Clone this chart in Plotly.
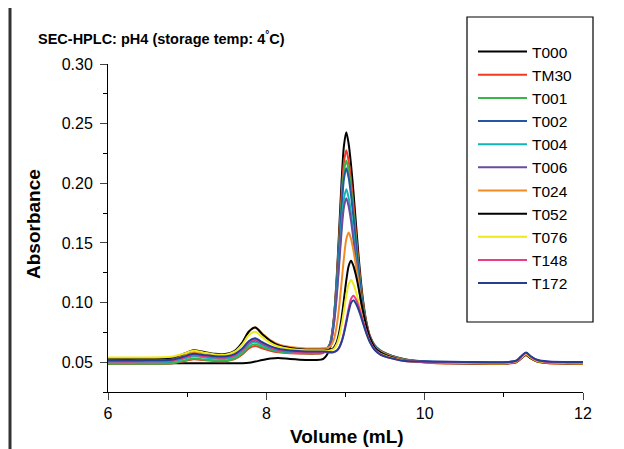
import plotly.graph_objects as go

volume = [6.0, 6.4, 6.8, 6.95, 7.08, 7.2, 7.35, 7.5, 7.6, 7.7, 7.78, 7.86, 7.95, 8.05, 8.15, 8.3, 8.5, 8.62, 8.72,
          8.80, 8.85, 8.89, 8.92, 8.95, 8.98, 9.01, 9.04, 9.07, 9.10, 9.13, 9.16, 9.19, 9.22, 9.26, 9.31, 9.37, 9.44,
          9.52, 9.62, 9.75, 9.90, 10.1,
          10.5, 11.06, 11.16, 11.22, 11.28, 11.34, 11.42, 11.56, 11.8, 12.0]

t000 = [.0490, .0490, .0490, .0491, .0492, .0491, .0490, .0490, .0490, .0491, .0495, .0505, .0518, .0530, .0535, .0527, .0519, .0518, .0528,
        .0609, .0843, .1223, .1608, .2008, .2313, .2428, .2329, .2154, .1931, .1679, .1432, .1209, .1027, .0851, .0716, .0637, .0594, .0567, .0545, .0525, .0510, .0498,
        .0492, .0492, .0503, .0534, .0562, .0534, .0507, .0495, .0492, .0491]
tm30 = [.0485, .0485, .0489, .0507, .0525, .0518, .0510, .0510, .0525, .0566, .0616, .0635, .0616, .0596, .0583, .0575, .0570, .0570, .0578,
        .0646, .0855, .1196, .1542, .1901, .2175, .2276, .2186, .2027, .1823, .1595, .1371, .1168, .1002, .0841, .0716, .0642, .0600, .0572, .0547, .0522, .0506, .0494,
        .0488, .0488, .0499, .0533, .0563, .0533, .0505, .0491, .0487, .0485]
t001 = [.0487, .0487, .0491, .0511, .0530, .0523, .0515, .0515, .0531, .0576, .0630, .0650, .0628, .0605, .0590, .0580, .0575, .0575, .0582,
        .0647, .0844, .1167, .1495, .1835, .2095, .2190, .2105, .1954, .1760, .1544, .1330, .1138, .0981, .0827, .0709, .0638, .0598, .0570, .0545, .0521, .0509, .0500,
        .0495, .0495, .0506, .0540, .0570, .0540, .0512, .0498, .0494, .0493]
t002 = [.0505, .0505, .0510, .0533, .0555, .0546, .0535, .0535, .0552, .0600, .0658, .0680, .0650, .0620, .0600, .0587, .0580, .0580, .0587,
        .0648, .0837, .1146, .1461, .1787, .2035, .2127, .2045, .1900, .1714, .1506, .1301, .1117, .0966, .0818, .0704, .0636, .0596, .0569, .0544, .0520, .0511, .0505,
        .0500, .0500, .0512, .0547, .0578, .0547, .0517, .0503, .0500, .0499]
t004 = [.0500, .0500, .0505, .0528, .0550, .0541, .0530, .0530, .0547, .0593, .0649, .0670, .0643, .0616, .0598, .0586, .0580, .0580, .0586,
        .0640, .0807, .1081, .1360, .1649, .1869, .1950, .1877, .1748, .1582, .1398, .1216, .1052, .0918, .0786, .0685, .0624, .0588, .0563, .0540, .0518, .0508, .0501,
        .0497, .0497, .0508, .0542, .0572, .0542, .0514, .0500, .0496, .0495]
t006 = [.0510, .0510, .0516, .0540, .0565, .0556, .0545, .0545, .0562, .0608, .0664, .0685, .0655, .0625, .0605, .0592, .0585, .0585, .0591,
        .0641, .0798, .1057, .1319, .1591, .1798, .1875, .1805, .1684, .1527, .1353, .1181, .1026, .0899, .0775, .0679, .0621, .0586, .0562, .0540, .0517, .0508, .0501,
        .0497, .0497, .0508, .0543, .0573, .0543, .0514, .0500, .0496, .0495]
t024 = [.0520, .0520, .0527, .0556, .0585, .0574, .0560, .0560, .0588, .0664, .0756, .0790, .0738, .0685, .0650, .0627, .0615, .0615, .0616,
        .0626, .0684, .0809, .0965, .1165, .1372, .1530, .1587, .1532, .1437, .1316, .1181, .1047, .0928, .0801, .0696, .0628, .0588, .0563, .0540, .0515, .0503, .0494,
        .0490, .0490, .0501, .0533, .0562, .0533, .0506, .0493, .0489, .0488]
t052 = [.0530, .0530, .0537, .0569, .0600, .0587, .0570, .0570, .0596, .0669, .0757, .0790, .0735, .0679, .0642, .0618, .0605, .0605, .0605,
        .0603, .0620, .0671, .0750, .0870, .1025, .1185, .1307, .1351, .1308, .1234, .1140, .1034, .0931, .0809, .0699, .0623, .0582, .0557, .0535, .0513, .0503, .0495,
        .0492, .0492, .0502, .0533, .0560, .0533, .0507, .0495, .0491, .0490]
t076 = [.0540, .0540, .0546, .0570, .0595, .0582, .0565, .0565, .0588, .0651, .0727, .0755, .0709, .0662, .0631, .0611, .0600, .0600, .0600,
        .0597, .0610, .0650, .0713, .0808, .0931, .1058, .1154, .1189, .1154, .1095, .1019, .0934, .0851, .0754, .0666, .0604, .0570, .0549, .0530, .0510, .0503, .0497,
        .0494, .0494, .0505, .0537, .0566, .0537, .0510, .0497, .0493, .0492]
t148 = [.0505, .0505, .0511, .0535, .0560, .0551, .0540, .0540, .0558, .0608, .0668, .0690, .0659, .0627, .0606, .0592, .0585, .0585, .0585,
        .0580, .0582, .0595, .0623, .0673, .0750, .0849, .0952, .1030, .1057, .1029, .0981, .0919, .0851, .0762, .0672, .0605, .0565, .0543, .0527, .0509, .0504, .0499,
        .0497, .0497, .0509, .0545, .0577, .0545, .0515, .0500, .0496, .0495]
t172 = [.0515, .0515, .0521, .0545, .0570, .0561, .0550, .0550, .0568, .0618, .0678, .0700, .0667, .0634, .0612, .0598, .0590, .0590, .0590,
        .0585, .0585, .0598, .0622, .0668, .0739, .0830, .0924, .0995, .1020, .0994, .0949, .0892, .0829, .0747, .0664, .0601, .0563, .0542, .0526, .0509, .0506, .0504,
        .0502, .0502, .0514, .0550, .0582, .0550, .0520, .0505, .0502, .0502]

names = ["T000", "TM30", "T001", "T002", "T004", "T006", "T024", "T052", "T076", "T148", "T172"]
series = [t000, tm30, t001, t002, t004, t006, t024, t052, t076, t148, t172]
colors = ["#000000", "#ee3b24", "#3ab54a", "#2456a4", "#12b5b5", "#6a4c9c", "#f28b25", "#000000", "#ede81b", "#ec3b85", "#243e93"]

FONT = "Liberation Sans, Arial, sans-serif"

fig = go.Figure()
for nm, ys, c in zip(names, series, colors):
    fig.add_trace(go.Scatter(x=volume, y=ys, name=nm, mode="lines", legendgroup=nm,
                             line=dict(color=c, width=2, shape="spline", smoothing=0.8)))

# page body has an 8px margin; figure is placed at (8, 8) in the 624x449 window
OFF = 8
W, H = 616, 441
L, T = 100, 56
R = W - (583 - OFF)
B = H - (392 - OFF)
pw, ph = W - L - R, H - T - B


def sx(x):  # screen x -> paper x
    return (x - OFF - L) / pw


def sy(y):  # screen y -> paper y
    return (H - B - (y - OFF)) / ph


fig.update_layout(
    width=W, height=H,
    margin=dict(l=L, r=R, t=T, b=B, autoexpand=False),
    paper_bgcolor="white", plot_bgcolor="white",
    font=dict(family=FONT, color="black", size=16),
    showlegend=True,
    legend=dict(x=sx(473), y=sy(35), xanchor="left", yanchor="top",
                bgcolor="rgba(0,0,0,0)", borderwidth=0,
                font=dict(family=FONT, size=15.5, color="black"),
                tracegroupgap=0, itemwidth=49, maxheight=320),
    xaxis=dict(range=[6, 12], tick0=6, dtick=2, ticks="outside", ticklen=7, tickwidth=1,
               showline=True, linecolor="black", linewidth=1, showgrid=False, zeroline=False,
               tickfont=dict(family=FONT, size=16),
               minor=dict(dtick=1, ticks="outside", ticklen=4, tickcolor="black")),
    yaxis=dict(range=[0.025, 0.30], tick0=0.05, dtick=0.05, tickformat=".2f", ticks="outside",
               ticklen=7, tickwidth=1, showline=True, linecolor="black", linewidth=1,
               showgrid=False, zeroline=False, tickfont=dict(family=FONT, size=16),
               ticklabelstandoff=4,
               minor=dict(tick0=0.025, dtick=0.025, ticks="outside", ticklen=4, tickcolor="black")),
    shapes=[
        dict(type="rect", xref="paper", yref="paper", x0=sx(467), x1=sx(593), y0=sy(322), y1=sy(17),
             line=dict(color="black", width=1.2), fillcolor="rgba(0,0,0,0)"),
        dict(type="line", xref="paper", yref="paper", x0=sx(10), x1=sx(10), y0=sy(449), y1=sy(0),
             line=dict(color="#333333", width=3)),
    ],
    annotations=[
        dict(text="SEC-HPLC: pH4 (storage temp: 4<sup>°</sup>C)", xref="paper", yref="paper",
             x=sx(36), y=sy(38), xanchor="left", yanchor="middle", showarrow=False,
             font=dict(family=FONT, size=14.5, color="black", weight="bold")),
        dict(text="Volume (mL)", xref="paper", yref="paper", x=sx(347), y=sy(436),
             xanchor="center", yanchor="middle", showarrow=False,
             font=dict(family=FONT, size=19, color="black", weight="bold")),
        dict(text="Absorbance", xref="paper", yref="paper", x=sx(33), y=sy(224), textangle=-90,
             xanchor="center", yanchor="middle", showarrow=False,
             font=dict(family=FONT, size=19, color="black", weight="bold")),
    ],
)

fig.write_html("out.html")
